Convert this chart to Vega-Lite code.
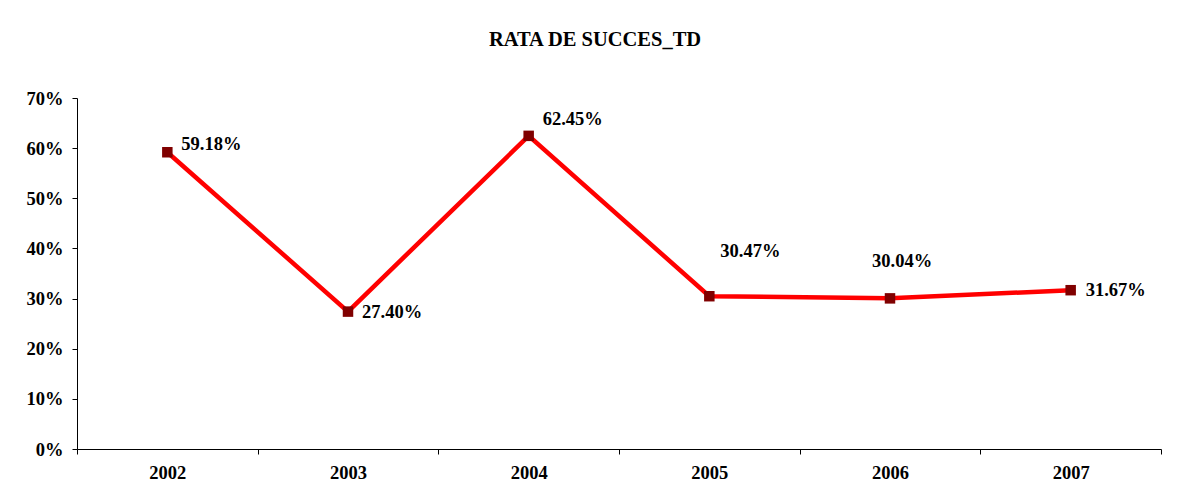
{
  "$schema": "https://vega.github.io/schema/vega-lite/v6.json",
  "width": 1084,
  "height": 351,
  "autosize": {"type": "none"},
  "padding": {"left": 77, "top": 98, "right": 20, "bottom": 52},
  "background": "white",
  "title": {
    "text": "RATA DE SUCCES_TD",
    "font": "Liberation Serif",
    "fontSize": 20.5,
    "fontWeight": "bold",
    "color": "black",
    "anchor": "middle",
    "frame": "group",
    "offset": 39,
    "dx": -24
  },
  "data": {
    "values": [
      {"an": "2002", "rata": 0.5918},
      {"an": "2003", "rata": 0.2740},
      {"an": "2004", "rata": 0.6245},
      {"an": "2005", "rata": 0.3047},
      {"an": "2006", "rata": 0.3004},
      {"an": "2007", "rata": 0.3167}
    ]
  },
  "encoding": {
    "x": {
      "field": "an",
      "type": "ordinal",
      "scale": {"type": "band", "paddingInner": 0, "paddingOuter": 0},
      "axis": {
        "title": null,
        "labelAngle": 0,
        "tickBand": "extent",
        "tickSize": 5,
        "labelPadding": 9,
        "labelFont": "Liberation Serif",
        "labelFontSize": 18.5,
        "labelFontWeight": "bold",
        "labelColor": "black",
        "domainColor": "black",
        "tickColor": "black",
        "grid": false
      }
    },
    "y": {
      "field": "rata",
      "type": "quantitative",
      "scale": {"domain": [0, 0.7], "nice": false},
      "axis": {
        "title": null,
        "format": ".0%",
        "values": [0, 0.1, 0.2, 0.3, 0.4, 0.5, 0.6, 0.7],
        "tickSize": 5,
        "labelPadding": 9,
        "labelFont": "Liberation Serif",
        "labelFontSize": 18.5,
        "labelFontWeight": "bold",
        "labelColor": "black",
        "domainColor": "black",
        "tickColor": "black",
        "grid": false
      }
    }
  },
  "layer": [
    {"mark": {"type": "line", "color": "#FF0000", "strokeWidth": 4.5}},
    {"mark": {"type": "point", "shape": "square", "filled": true, "size": 110, "color": "#800000", "opacity": 1}},
    {
      "transform": [{"filter": "datum.an == '2002'"}],
      "mark": {"type": "text", "align": "left", "baseline": "middle", "dx": 14, "dy": -8, "font": "Liberation Serif", "fontSize": 18.5, "fontWeight": "bold", "color": "black"},
      "encoding": {"text": {"field": "rata", "type": "quantitative", "format": ".2%"}}
    },
    {
      "transform": [{"filter": "datum.an == '2003'"}],
      "mark": {"type": "text", "align": "left", "baseline": "middle", "dx": 14, "dy": 0, "font": "Liberation Serif", "fontSize": 18.5, "fontWeight": "bold", "color": "black"},
      "encoding": {"text": {"field": "rata", "type": "quantitative", "format": ".2%"}}
    },
    {
      "transform": [{"filter": "datum.an == '2004'"}],
      "mark": {"type": "text", "align": "left", "baseline": "middle", "dx": 14, "dy": -17, "font": "Liberation Serif", "fontSize": 18.5, "fontWeight": "bold", "color": "black"},
      "encoding": {"text": {"field": "rata", "type": "quantitative", "format": ".2%"}}
    },
    {
      "transform": [{"filter": "datum.an == '2005'"}],
      "mark": {"type": "text", "align": "left", "baseline": "middle", "dx": 11, "dy": -45, "font": "Liberation Serif", "fontSize": 18.5, "fontWeight": "bold", "color": "black"},
      "encoding": {"text": {"field": "rata", "type": "quantitative", "format": ".2%"}}
    },
    {
      "transform": [{"filter": "datum.an == '2006'"}],
      "mark": {"type": "text", "align": "left", "baseline": "middle", "dx": -18, "dy": -37, "font": "Liberation Serif", "fontSize": 18.5, "fontWeight": "bold", "color": "black"},
      "encoding": {"text": {"field": "rata", "type": "quantitative", "format": ".2%"}}
    },
    {
      "transform": [{"filter": "datum.an == '2007'"}],
      "mark": {"type": "text", "align": "left", "baseline": "middle", "dx": 15, "dy": 0, "font": "Liberation Serif", "fontSize": 18.5, "fontWeight": "bold", "color": "black"},
      "encoding": {"text": {"field": "rata", "type": "quantitative", "format": ".2%"}}
    }
  ],
  "config": {"view": {"stroke": null}}
}
